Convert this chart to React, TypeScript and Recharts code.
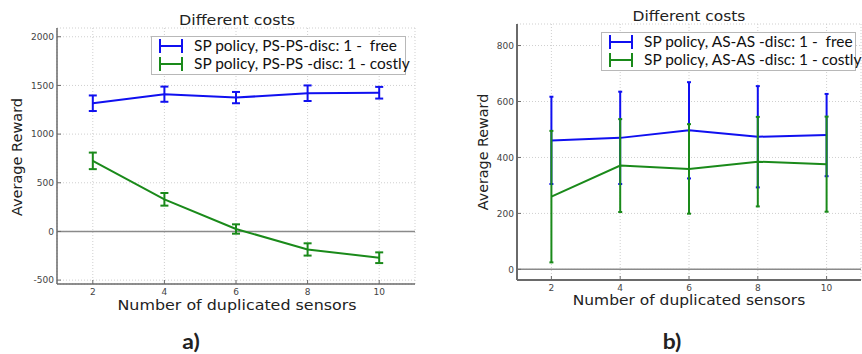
import React from 'react';
import {
  LineChart,
  Line,
  XAxis,
  YAxis,
  CartesianGrid,
  ReferenceLine,
  ErrorBar
} from 'recharts';

// number of duplicated sensors
const sensors = [2, 4, 6, 8, 10];
const xTicks = [2, 4, 6, 8, 10];

// panel a) PS-PS
const freeA = [1317, 1410, 1375, 1420, 1425];
const freeAErr = [80, 78, 58, 80, 60];
const costlyA = [725, 330, 25, -185, -270];
const costlyAErr = [85, 65, 48, 63, 55];
const ticksA = [-500, 0, 500, 1000, 1500, 2000];

// panel b) AS-AS
const freeB = [461, 470, 497, 474, 480];
const freeBErr = [156, 165, 172, 181, 147];
const costlyB = [260, 371, 359, 385, 376];
const costlyBErr = [235, 166, 160, 160, 170];
const ticksB = [0, 200, 400, 600, 800];

const legendA = ['SP policy, PS-PS-disc: 1 -  free', 'SP policy, PS-PS -disc: 1 - costly'];
const legendB = ['SP policy, AS-AS -disc: 1 -  free', 'SP policy, AS-AS -disc: 1 - costly'];

const BLUE = '#1010f0';
const GREEN = '#1a8a1a';
const FRAME = '#6a6a6a';
const DEJAVU = '"DejaVu Sans", sans-serif';

const rows = (free: number[], freeErr: number[], costly: number[], costlyErr: number[]) =>
  sensors.map((x, i) => ({
    x,
    free: free[i],
    freeErr: freeErr[i],
    costly: costly[i],
    costlyErr: costlyErr[i]
  }));

interface PanelProps {
  left: number;
  data: any[];
  domain: [number, number];
  yTicks: number[];
  margin: { top: number; right: number; bottom: number; left: number };
  yAxisWidth: number;
  cap: number;
  frameWidth: number;
}

function Panel({ left, data, domain, yTicks, margin, yAxisWidth, cap, frameWidth }: PanelProps) {
  const tick = { fill: '#444', fontSize: 9, fontFamily: DEJAVU };
  return (
    <div style={{ position: 'absolute', left, top: 0 }}>
      <LineChart width={431} height={354} data={data} margin={margin}>
        <CartesianGrid stroke="#cfcfcf" strokeDasharray="1 2" />
        <XAxis
          dataKey="x"
          type="number"
          domain={[1, 11]}
          ticks={xTicks}
          height={20}
          tick={tick}
          tickSize={-4}
          tickMargin={9}
          tickLine={{ stroke: FRAME }}
          axisLine={{ stroke: FRAME, strokeWidth: frameWidth }}
        />
        <XAxis
          xAxisId="top"
          orientation="top"
          dataKey="x"
          type="number"
          domain={[1, 11]}
          height={0}
          tick={false}
          tickLine={false}
          axisLine={{ stroke: FRAME, strokeWidth: frameWidth }}
        />
        <YAxis
          type="number"
          domain={domain}
          ticks={yTicks}
          width={yAxisWidth}
          tick={tick}
          tickSize={-4}
          tickMargin={7}
          tickLine={{ stroke: FRAME }}
          axisLine={{ stroke: FRAME, strokeWidth: frameWidth }}
          allowDataOverflow
        />
        <YAxis
          yAxisId="right"
          orientation="right"
          type="number"
          domain={domain}
          width={0}
          tick={false}
          tickLine={false}
          axisLine={{ stroke: FRAME, strokeWidth: frameWidth }}
        />
        <ReferenceLine y={0} stroke="#8a8a8a" strokeWidth={1.5} />
        <Line
          dataKey="free"
          stroke={BLUE}
          strokeWidth={2}
          dot={false}
          isAnimationActive={false}
        >
          <ErrorBar dataKey="freeErr" direction="y" width={cap} stroke={BLUE} strokeWidth={2} />
        </Line>
        <Line
          dataKey="costly"
          stroke={GREEN}
          strokeWidth={2}
          dot={false}
          isAnimationActive={false}
        >
          <ErrorBar dataKey="costlyErr" direction="y" width={cap} stroke={GREEN} strokeWidth={2} />
        </Line>
      </LineChart>
    </div>
  );
}

function Txt({ x, y, size, children, rotate = false, bold = false, family = DEJAVU, sx = 1.09 }: any) {
  return (
    <div
      style={{
        position: 'absolute',
        left: x,
        top: y,
        transform: rotate
          ? 'translate(-50%, -50%) rotate(-90deg)'
          : `translate(-50%, -50%) scaleX(${sx})`,
        fontFamily: family,
        fontSize: size,
        fontWeight: bold ? 700 : 400,
        color: '#222',
        whiteSpace: 'nowrap',
        lineHeight: 1
      }}
    >
      {children}
    </div>
  );
}

function LegendBox({ x, y, labels }: { x: number; y: number; labels: string[] }) {
  const colors = [BLUE, GREEN];
  return (
    <div style={{ position: 'absolute', left: x, top: y, width: 255, height: 39 }}>
      <div
        style={{
          position: 'absolute',
          inset: 0,
          background: '#fff',
          border: '1px solid #b8b8b8'
        }}
      />
      {labels.map((label, i) => (
        <div key={label} style={{ position: 'absolute', left: 0, top: 10 + i * 17.5 }}>
          <svg
            width={26}
            height={16}
            style={{ position: 'absolute', left: 7, top: -8 }}
          >
            <line x1={1} y1={8} x2={25} y2={8} stroke={colors[i]} strokeWidth={2} />
            <line x1={2} y1={1} x2={2} y2={15} stroke={colors[i]} strokeWidth={2} />
            <line x1={24} y1={1} x2={24} y2={15} stroke={colors[i]} strokeWidth={2} />
          </svg>
          <div
            style={{
              position: 'absolute',
              left: 43,
              top: 0,
              transform: 'translateY(-55%) scaleX(1.03)',
              transformOrigin: 'left center',
              fontFamily: 'Lato, sans-serif',
              fontSize: 15,
              color: '#111',
              whiteSpace: 'pre',
              lineHeight: 1.2
            }}
          >
            {label}
          </div>
        </div>
      ))}
    </div>
  );
}

export default function App() {
  const dataA = rows(freeA, freeAErr, costlyA, costlyAErr);
  const dataB = rows(freeB, freeBErr, costlyB, costlyBErr);
  return (
    <div
      style={{
        position: 'fixed',
        left: 0,
        top: 0,
        width: 862,
        height: 354,
        overflow: 'hidden',
        background: '#fff'
      }}
    >
      <Panel
        left={0}
        data={dataA}
        domain={[-540, 2090]}
        yTicks={ticksA}
        margin={{ top: 28, right: 16, bottom: 50, left: 0 }}
        yAxisWidth={57}
        cap={4}
        frameWidth={1.5}
      />
      <Panel
        left={431}
        data={dataB}
        domain={[-38, 877]}
        yTicks={ticksB}
        margin={{ top: 24, right: 1, bottom: 54, left: 28 }}
        yAxisWidth={58}
        cap={2}
        frameWidth={2}
      />

      <Txt x={237} y={20} size={14.6}>Different costs</Txt>
      <Txt x={17} y={157} size={14.5} rotate>Average Reward</Txt>
      <Txt x={237} y={305} size={14.6}>Number of duplicated sensors</Txt>
      <Txt x={191} y={340} size={21} bold family="Lato, sans-serif">a)</Txt>
      <LegendBox x={151} y={36} labels={legendA} />

      <Txt x={689} y={16} size={14.2}>Different costs</Txt>
      <Txt x={483} y={152} size={14.3} rotate>Average Reward</Txt>
      <Txt x={689} y={300} size={14.2}>Number of duplicated sensors</Txt>
      <Txt x={672} y={340} size={21} bold family="Lato, sans-serif">b)</Txt>
      <LegendBox x={601} y={32} labels={legendB} />
    </div>
  );
}
